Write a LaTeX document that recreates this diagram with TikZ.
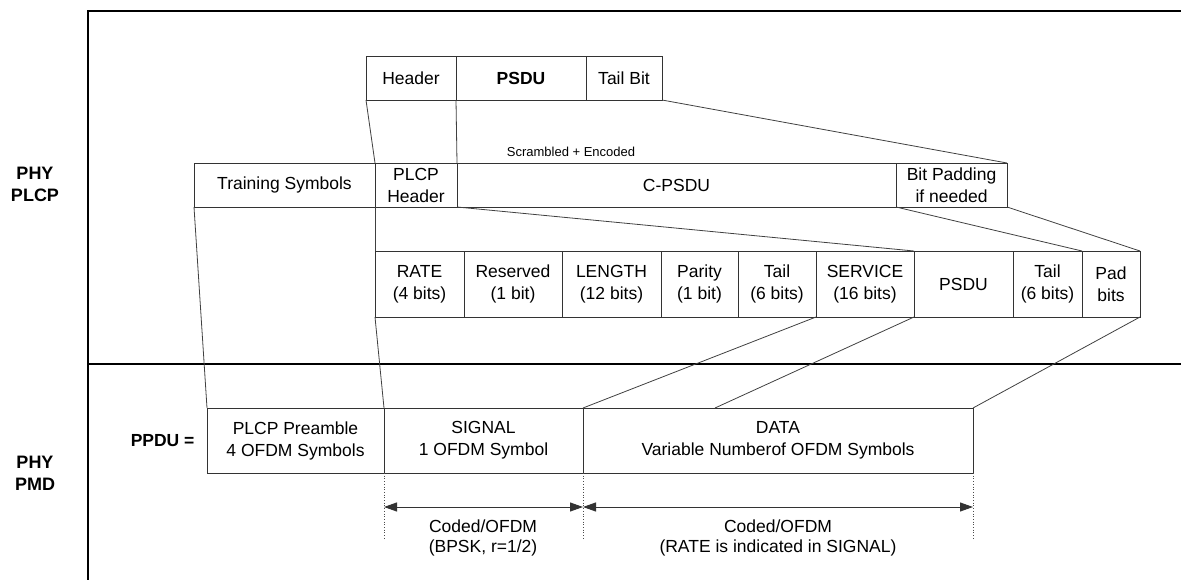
\documentclass[tikz,border=0pt]{standalone}
\usepackage{fontspec}
\setmainfont{Liberation Sans}
\usetikzlibrary{arrows.meta}
\begin{document}
\begin{tikzpicture}[x=1pt,y=-1pt,
  cell/.style={draw=black!80, line width=0.9pt, inner sep=0pt, outer sep=0pt, anchor=north west, align=center, font=\fontsize{17.5}{22}\selectfont},
  link/.style={draw=black!75, line width=0.8pt},
  frameline/.style={line width=2.5pt},
  lbl/.style={font=\fontsize{18}{22}\selectfont\bfseries, align=center},
  txt/.style={font=\fontsize{17.5}{20}\selectfont, align=center},
  dimline/.style={line width=0.7pt, black!70, dotted},
  dimarrow/.style={line width=1pt, black!80, {Triangle[length=13pt,width=9pt]}-{Triangle[length=13pt,width=9pt]}},
]
\useasboundingbox (0,0) rectangle (1181,580);
% frame
\draw[frameline] (1181,11) -- (88,11) -- (88,580);
\draw[frameline] (88,364) -- (1181,364);
% side labels
\node[lbl] (plcp) at (35,184) {PHY\\PLCP};
\node[lbl] (pmd) at (35,473) {PHY\\PMD};
% top row
\node[cell, minimum width=90pt, minimum height=44pt] (hdr) at (366,56) {Header};
\node[cell, minimum width=130pt, minimum height=44pt] (psdu) at (456,56) {\bfseries PSDU};
\node[cell, minimum width=76pt, minimum height=44pt] (tailbit) at (586,56) {Tail Bit};
\node[font=\fontsize{13}{15}\selectfont] (scr) at (571,152) {Scrambled + Encoded};
% middle row
\node[cell, minimum width=181pt, minimum height=44pt] (train) at (194,163) {Training Symbols};
\node[cell, minimum width=82pt, minimum height=44pt] (plcphdr) at (375,163) {PLCP\\Header};
\node[cell, minimum width=439pt, minimum height=44pt] (cpsdu) at (457,163) {C-PSDU};
\node[cell, minimum width=111pt, minimum height=44pt] (bitpad) at (896,163) {Bit Padding\\if needed};
% field row
\node[cell, minimum width=89pt, minimum height=66pt] (rate) at (375,251) {RATE\\(4 bits)};
\node[cell, minimum width=98pt, minimum height=66pt] (resv) at (464,251) {Reserved\\(1 bit)};
\node[cell, minimum width=99pt, minimum height=66pt] (length) at (562,251) {LENGTH\\(12 bits)};
\node[cell, minimum width=77pt, minimum height=66pt] (parity) at (661,251) {Parity\\(1 bit)};
\node[cell, minimum width=78pt, minimum height=66pt] (tail1) at (738,251) {Tail\\(6 bits)};
\node[cell, minimum width=98pt, minimum height=66pt] (service) at (816,251) {SERVICE\\(16 bits)};
\node[cell, minimum width=99pt, minimum height=66pt] (psdu2) at (914,251) {PSDU};
\node[cell, minimum width=69pt, minimum height=66pt] (tail2) at (1013,251) {Tail\\(6 bits)};
\node[cell, minimum width=58pt, minimum height=66pt] (pad) at (1082,251) {Pad\\bits};
% PPDU row
\node[lbl, font=\fontsize{17.5}{22}\selectfont\bfseries, anchor=east] (ppdu) at (198,441) {PPDU =};
\node[cell, minimum width=177pt, minimum height=65pt] (pre) at (207,408) {PLCP Preamble\\4 OFDM Symbols};
\node[cell, minimum width=199pt, minimum height=65pt] (signal) at (384,408) {SIGNAL\\1 OFDM Symbol};
\node[cell, minimum width=390pt, minimum height=65pt] (data) at (583,408) {DATA\\Variable Numberof OFDM Symbols};
\coordinate (dmid) at (715,408);
% connectors
\draw[link] (hdr.south west) -- (plcphdr.north west);
\draw[link] (psdu.south west) -- (cpsdu.north west);
\draw[link] (tailbit.south east) -- (bitpad.north east);
\draw[link] (train.south west) -- (pre.north west);
\draw[link] (plcphdr.south west) -- (rate.north west);
\draw[link] (plcphdr.south east) -- (service.north east);
\draw[link] (bitpad.south west) -- (tail2.north east);
\draw[link] (bitpad.south east) -- (pad.north east);
\draw[link] (rate.south west) -- (signal.north west);
\draw[link] (tail1.south east) -- (data.north west);
\draw[link] (service.south east) -- (dmid);
\draw[link] (pad.south east) -- (data.north east);
% dimension lines
\coordinate (d1) at (384,538);
\coordinate (d2) at (583,538);
\coordinate (d3) at (973,538);
\coordinate (a1) at (384,507);
\coordinate (a2) at (583,507);
\coordinate (a3) at (973,507);
\draw[dimline] (signal.south west) -- (d1);
\draw[dimline] (data.south west) -- (d2);
\draw[dimline] (data.south east) -- (d3);
\draw[dimarrow] (a1) -- (a2);
\draw[dimarrow] (a2) -- (a3);
\node[txt] (c1) at (483,538) {Coded/OFDM\\(BPSK, r=1/2)};
\node[txt] (c2) at (778,538) {Coded/OFDM\\(RATE is indicated in SIGNAL)};
\end{tikzpicture}
\end{document}
